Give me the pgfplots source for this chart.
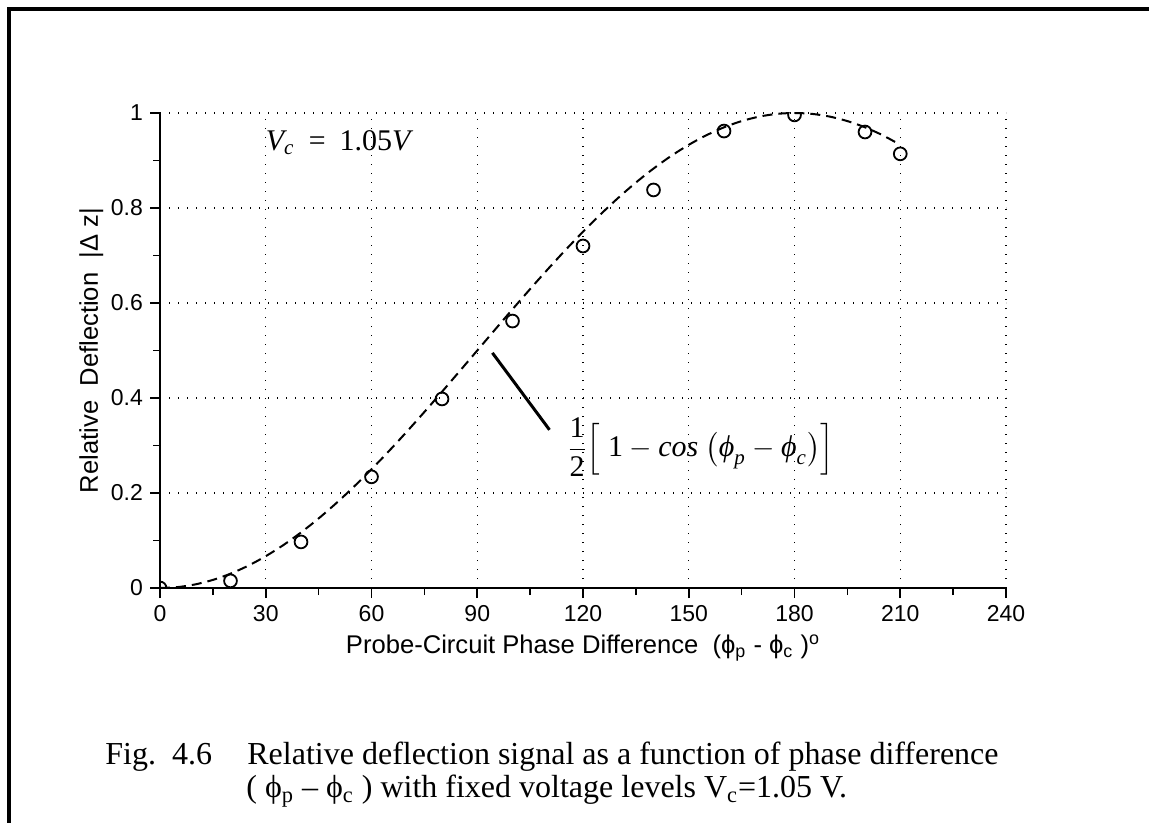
\documentclass[border=0pt]{standalone}
\usepackage{fontspec}
\setmainfont{Liberation Serif}
\setsansfont{Liberation Sans}
\newfontfamily\helv{Liberation Sans}
\usepackage{amsmath}
\usepackage{pgfplots}
\pgfplotsset{compat=1.18}

\pgfplotstableread{
x y
0 0
20 0.015
40 0.097
60 0.234
80 0.398
100 0.562
120 0.720
140 0.838
160 0.962
180 0.996
200 0.960
210 0.914
}\measured

\pgfplotstableread{
x y
0 0
5 0.00190
10 0.00760
15 0.01704
20 0.03015
25 0.04685
30 0.06699
35 0.09042
40 0.11698
45 0.14645
50 0.17861
55 0.21321
60 0.25
65 0.28869
70 0.32899
75 0.37059
80 0.41318
85 0.45642
90 0.5
95 0.54358
100 0.58682
105 0.62941
110 0.67101
115 0.71131
120 0.75
125 0.78679
130 0.82139
135 0.85355
140 0.88302
145 0.90958
150 0.93301
155 0.95315
160 0.96985
165 0.98296
170 0.99240
175 0.99810
180 1
185 0.99810
190 0.99240
195 0.98296
200 0.96985
205 0.95315
210 0.93301
}\theory

\begin{document}
\begin{tikzpicture}
\path[use as bounding box] (0,0) rectangle (574.5pt,-411.5pt);
\draw[line width=2pt] (4.5pt,-411.5pt) -- (4.5pt,-4.5pt) -- (574.5pt,-4.5pt);
\begin{axis}[
  at={(80pt,-294pt)}, anchor=south west,
  scale only axis, width=423pt, height=237.5pt,
  xmin=0, xmax=240, ymin=0, ymax=1,
  xtick={0,30,...,240},
  ytick={0,0.2,0.4,0.6,0.8,1},
  yticklabels={0,0.2,0.4,0.6,0.8,1},
  minor x tick num=1, minor y tick num=1,
  axis x line*=bottom, axis y line*=left,
  axis line style={line width=0.9pt, -},
  tick align=outside,
  major tick length=5pt, minor tick length=3.5pt,
  every tick/.style={black, line width=0.8pt},
  grid=major,
  major grid style={black, line width=0.7pt, dash pattern=on 0.7pt off 3.8pt},
  tick label style={font=\helv\fontsize{11.5}{13}\selectfont},
  /pgf/number format/assume math mode=true,
  xlabel={\helv\fontsize{12.8}{14}\selectfont Probe-Circuit Phase Difference\ \ (ϕ\textsubscript{p} - ϕ\textsubscript{c} )\textsuperscript{o}},
  ylabel={\helv\fontsize{12.8}{14}\selectfont Relative\ \ Deflection\ \ |Δ z|},
  ylabel style={yshift=-3pt},
  clip marker paths=true,
]
\addplot[black, line width=1pt, dash pattern=on 5pt off 3pt, smooth] table[x=x,y=y] {\theory};
\addplot[only marks, mark=o, mark size=3.2pt, mark options={black, line width=0.9pt}] table[x=x,y=y] {\measured};
\draw[line width=1.5pt] (axis cs:94.3,0.495) -- (axis cs:110.5,0.333);
\node[anchor=base west, font=\fontsize{15}{17}\selectfont] at (axis cs:28,0.922) {\itshape V\textsubscript{c}\ \,=\ \,\upshape 1.05\itshape V};
\node[anchor=west, font=\fontsize{15}{17}\selectfont] at (axis cs:113.5,0.297) {$\dfrac{\text{1}}{\text{2}}\Big[\ \text{1}-\textit{cos}\ \big(\textit{ϕ}_{\textit{p}}-\textit{ϕ}_{\textit{c}}\big)\Big]$};
\end{axis}
\begin{scope}[every node/.style={anchor=base west, inner sep=0pt, font=\fontsize{16}{18}\selectfont}]
\node at (52.5pt,-382pt) {Fig.\ \ 4.6};
\node at (123.5pt,-382pt) {Relative deflection signal as a function of phase difference};
\node at (123pt,-398.5pt) {( ϕ\textsubscript{p} – ϕ\textsubscript{c} ) with fixed voltage levels V\textsubscript{c}=1.05 V.};
\end{scope}
\end{tikzpicture}
\end{document}
